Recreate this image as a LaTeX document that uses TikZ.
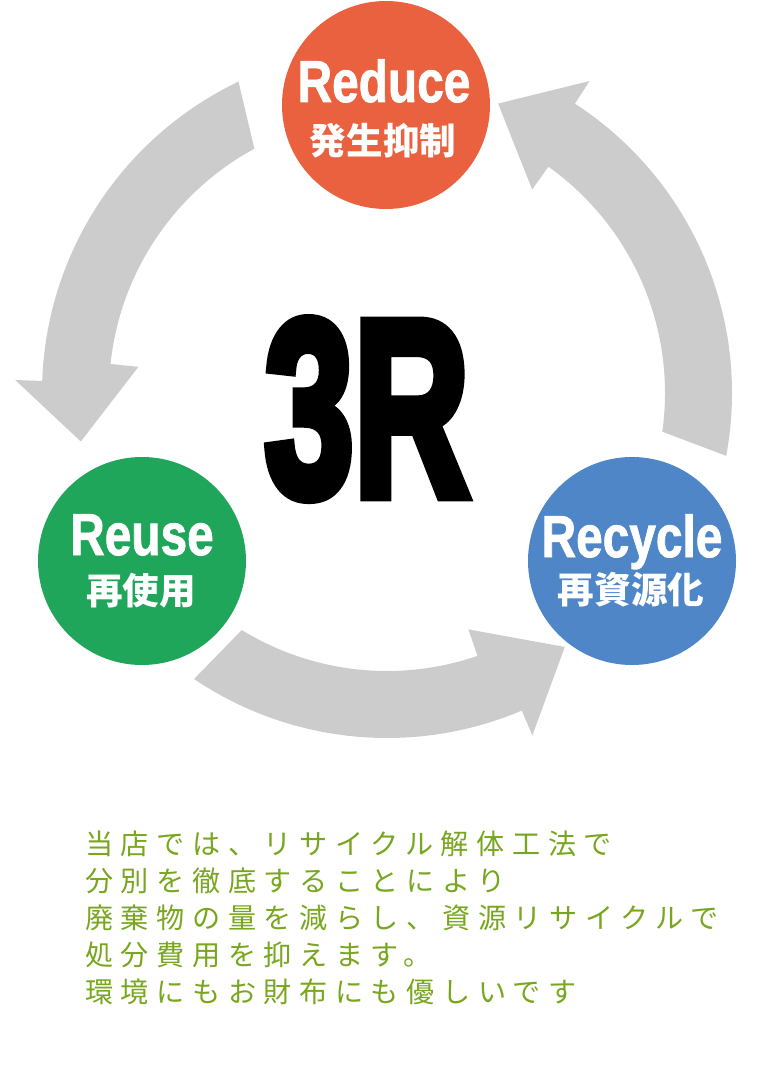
\documentclass[tikz,border=0pt]{standalone}
\usepackage{fontspec}
\usepackage{tikz}
\usetikzlibrary{calc}
\setmainfont{Liberation Sans}
\newfontfamily\heavy{Liberation Sans}[BoldFeatures={FakeBold=5}]
\newfontfamily\labelfont{Liberation Sans}[BoldFeatures={FakeBold=1.5}]
\newfontfamily\cjk{Noto Sans CJK JP}
\newfontfamily\cjkbody{Noto Sans CJK JP}[LetterSpace=27]
\newcommand{\narrow}[2]{\scalebox{#1}[1]{#2}}
\definecolor{RROrange}{HTML}{E9613F}
\definecolor{RRGreen}{HTML}{1FA65A}
\definecolor{RRBlue}{HTML}{4F86C8}
\definecolor{RRGray}{HTML}{CCCCCC}
\definecolor{RRNote}{HTML}{78A61E}
\tikzset{
  rrCircle/.style={
    circle, fill=#1, draw=none, minimum size=52mm, inner sep=0pt
  },
  rrCircle/.default=RROrange,
  rrMain/.style={
    text=white, inner sep=0pt, anchor=base,
    font=\labelfont\bfseries\fontsize{42}{42}\selectfont
  },
  rrSub/.style={
    text=white, inner sep=0pt,
    font=\cjk\bfseries\fontsize{26}{26}\selectfont
  },
  rrTitle/.style={
    text=black, inner sep=0pt, anchor=base,
    font=\heavy\bfseries\fontsize{178}{178}\selectfont
  },
  rrArrow/.style={fill=RRGray, draw=none},
  rrNote/.style={
    text=RRNote, inner sep=0pt, anchor=base west,
    font=\cjkbody\fontsize{20}{20}\selectfont
  }
}
\begin{document}
\begin{tikzpicture}[x=0.25mm, y=0.25mm]
  \useasboundingbox (0,0) rectangle (780,-1092);
  \coordinate (hub) at (387,-393);

  % ring arrows
  \fill[rrArrow] ($(hub)+(118.5:278)$) arc[start angle=118.5, end angle=174, radius=278]
    -- ($(hub)+(174:250)$) -- ($(hub)+(189:310)$) -- ($(hub)+(178:372)$) -- ($(hub)+(178:345)$)
    arc[start angle=178, end angle=115.5, radius=345] -- cycle;
  \fill[rrArrow] ($(hub)+(238.5:278)$) arc[start angle=238.5, end angle=289, radius=278]
    -- ($(hub)+(289:250)$) -- ($(hub)+(305:310)$) -- ($(hub)+(293:372)$) -- ($(hub)+(293:345)$)
    arc[start angle=293, end angle=236, radius=345] -- cycle;
  \fill[rrArrow] ($(hub)+(-8:278)$) arc[start angle=-8, end angle=54.5, radius=278]
    -- ($(hub)+(54.5:250)$) -- ($(hub)+(69:310)$) -- ($(hub)+(57:372)$) -- ($(hub)+(57:345)$)
    arc[start angle=57, end angle=-10.5, radius=345] -- cycle;

  \node[rrCircle=RROrange] (reduce) at (386,-105) {};
  \node[rrCircle=RRGreen] (reuse) at (142,-561) {};
  \node[rrCircle=RRBlue] (recycle) at (632,-561) {};

  \node[rrMain] (reduceEn) at (384,-102) {\narrow{0.81}{Reduce}};
  \node[rrSub] (reduceJp) at (383,-141) {発生抑制};
  \node[rrMain] (reuseEn) at (142,-555) {\narrow{0.81}{Reuse}};
  \node[rrSub] (reuseJp) at (141,-591) {再使用};
  \node[rrMain] (recycleEn) at (632,-557) {\narrow{0.81}{Recycle}};
  \node[rrSub] (recycleJp) at (631,-590) {再資源化};

  \node[rrTitle] (title) at (367,-495) {\narrow{0.64}{3R}};

  \node[rrNote] (note1) at (85,-854) {当店では、リサイクル解体工法で};
  \node[rrNote] (note2) at (85,-891) {分別を徹底することにより};
  \node[rrNote] (note3) at (85,-928) {廃棄物の量を減らし、資源リサイクルで};
  \node[rrNote] (note4) at (85,-965) {処分費用を抑えます。};
  \node[rrNote] (note5) at (85,-1002) {環境にもお財布にも優しいです};
\end{tikzpicture}
\end{document}
